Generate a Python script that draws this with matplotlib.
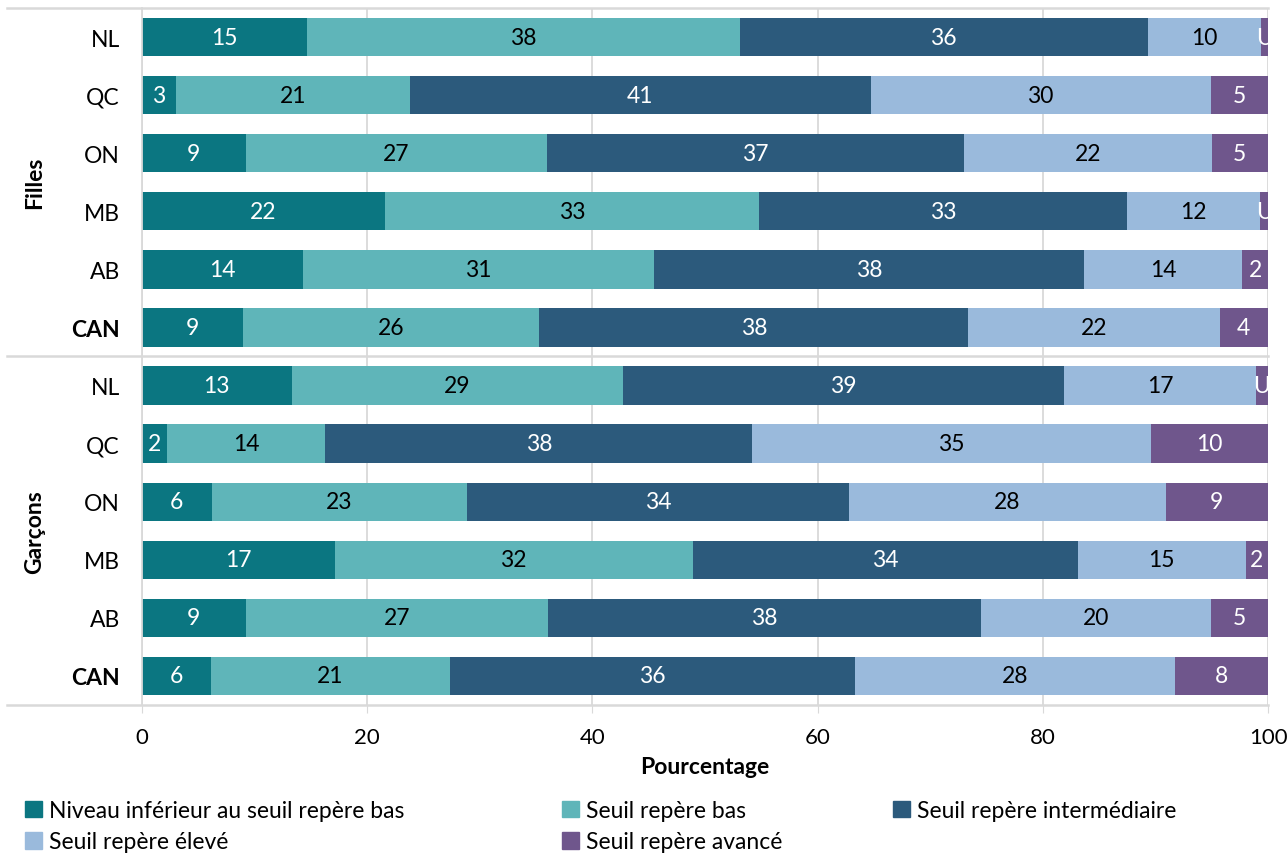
import numpy as np
import matplotlib.pyplot as plt
from matplotlib.patches import Patch

plt.rcParams['font.family'] = ['Lato', 'DejaVu Sans']

# rows from top to bottom
provinces = ['NL', 'QC', 'ON', 'MB', 'AB', 'CAN', 'NL', 'QC', 'ON', 'MB', 'AB', 'CAN']
groups = ['Filles', 'Garçons']

series = ['Niveau inférieur au seuil repère bas', 'Seuil repère bas',
          'Seuil repère intermédiaire', 'Seuil repère élevé', 'Seuil repère avancé']

inferieur = [14.7, 3.0, 9.2, 21.6, 14.3, 9.0, 13.3, 2.2, 6.2, 17.1, 9.2, 6.1]
bas = [38.4, 20.8, 26.8, 33.2, 31.2, 26.3, 29.4, 14.1, 22.7, 31.8, 26.9, 21.3]
intermediaire = [36.2, 40.9, 37.0, 32.7, 38.2, 38.1, 39.2, 37.9, 33.9, 34.2, 38.4, 35.9]
eleve = [10.1, 30.2, 22.0, 11.8, 14.0, 22.3, 17.0, 35.4, 28.1, 14.9, 20.4, 28.4]
avance = [0.6, 5.1, 5.0, 0.8, 2.3, 4.3, 1.1, 10.4, 9.1, 2.0, 5.1, 8.3]

colors = ['#0B7681', '#5FB5B9', '#2C5A7C', '#9ABADC', '#6F568C']
text_colors = ['white', 'black', 'white', 'black', 'white']

data = [inferieur, bas, intermediaire, eleve, avance]
fs = 16.5

fig = plt.figure(figsize=(12.88, 8.54), dpi=100)
ax = fig.add_axes([0.1102, 0.1733, 0.8743, 0.8162])

y = np.arange(len(provinces))
left = np.zeros(len(provinces))
for vals, col, tc, name in zip(data, colors, text_colors, series):
    vals = np.array(vals)
    ax.barh(y, vals, left=left, height=0.66, color=col, label=name, zorder=2)
    for yi, (l, v) in enumerate(zip(left, vals)):
        lab = 'U' if v < 1.2 else f'{v:.0f}'
        ax.text(l + v / 2, yi, lab, ha='center', va='center', color=tc,
                fontsize=fs, zorder=3)
    left += vals

ax.set_xlim(0, 100)
ax.set_ylim(len(provinces) - 0.5, -0.5)
ax.set_xticks(range(0, 101, 20))
ax.xaxis.grid(True, color='#D9D9D9', lw=1.3, zorder=0)
ax.tick_params(axis='x', length=6, color='#D9D9D9', labelsize=fs - 0.5, pad=10)
ax.tick_params(axis='y', length=0, labelsize=fs, pad=16)
ax.set_yticks(y)
ax.set_yticklabels(provinces)
for i, t in enumerate(ax.get_yticklabels()):
    if provinces[i] == 'CAN':
        t.set_fontweight('bold')

for s in ['top', 'right', 'bottom']:
    ax.spines[s].set_visible(False)
ax.spines['left'].set_color('#D9D9D9')
ax.spines['left'].set_linewidth(1.3)

ax.set_xlabel('Pourcentage', fontsize=fs, fontweight='bold', labelpad=6)

# group separator lines and labels extending to the left
x0 = -12.0
for yl in [-0.5, 5.5, 11.5]:
    ax.plot([x0, 100], [yl, yl], color='#D9D9D9', lw=1.8, clip_on=False, zorder=1)
ax.text(-9.5, 2.5, groups[0], rotation=90, ha='center', va='center',
        fontsize=fs, fontweight='bold')
ax.text(-9.5, 8.5, groups[1], rotation=90, ha='center', va='center',
        fontsize=fs, fontweight='bold')

# legend: three columns placed separately, filled row by row
handles = [Patch(color=c) for c in colors]
columns = [[0, 3], [1, 4], [2]]
col_x = [0.0105, 0.4275, 0.6845]
for idx, cx in zip(columns, col_x):
    leg = fig.legend([handles[i] for i in idx], [series[i] for i in idx],
                     loc='upper left', bbox_to_anchor=(cx, 0.0755), frameon=False,
                     fontsize=fs, handlelength=0.75, handleheight=0.75,
                     handletextpad=0.3, labelspacing=0.45, borderpad=0)

fig.savefig('out.png', dpi=100)
